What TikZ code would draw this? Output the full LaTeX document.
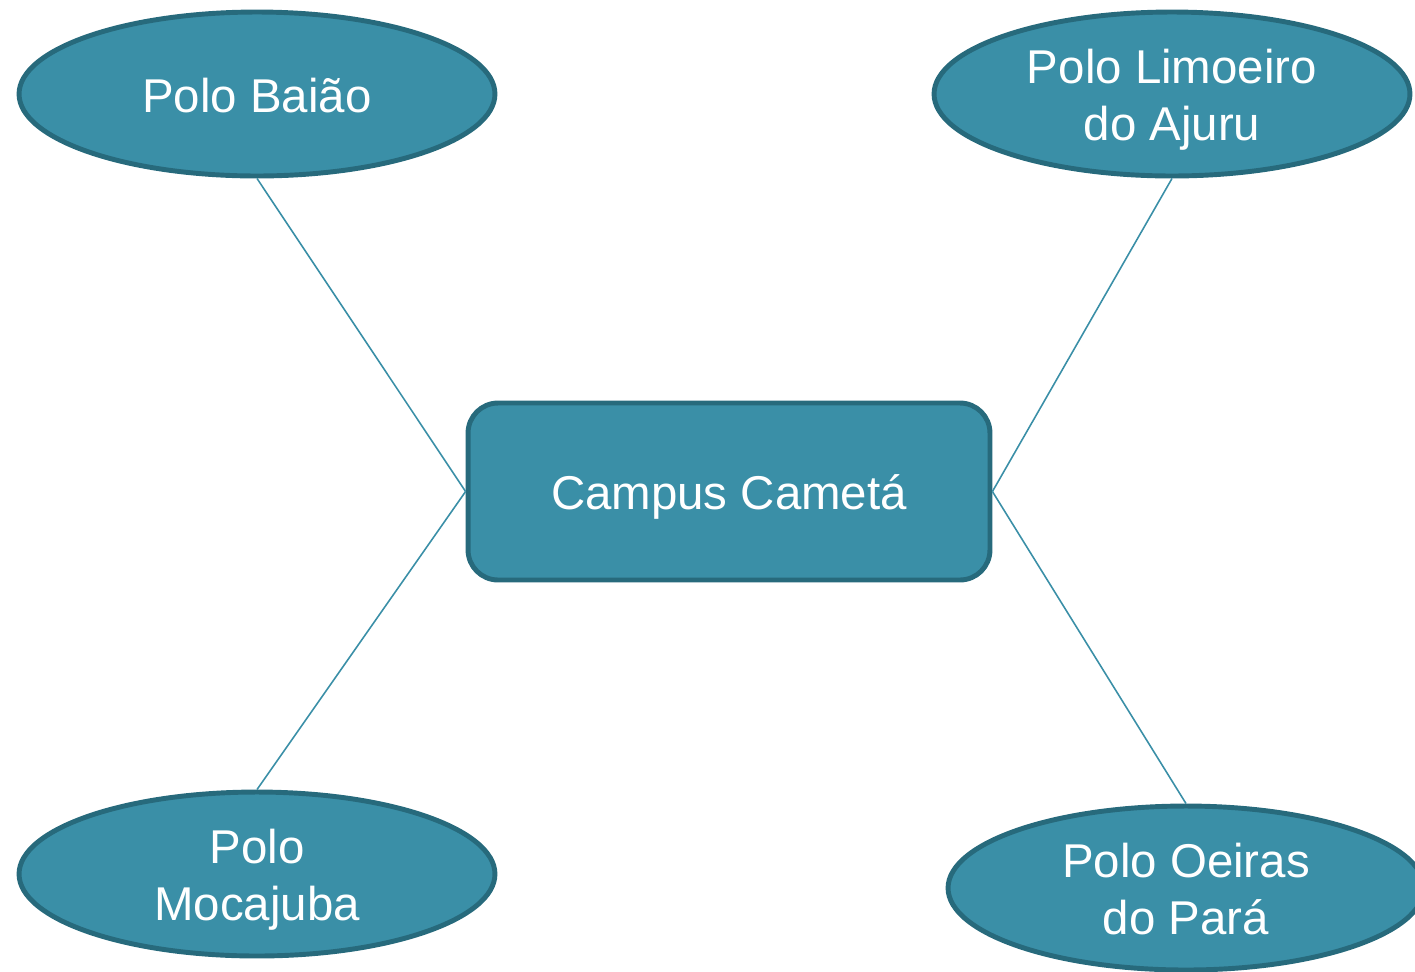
\documentclass[tikz,border=0pt]{standalone}
\usepackage{fontspec}
\setmainfont{Liberation Sans}
\usetikzlibrary{shapes.geometric}
\definecolor{tealfill}{HTML}{3A8FA7}
\definecolor{tealborder}{HTML}{276A7C}
\newcommand\lnstrut{\rule[-6pt]{0pt}{32.5pt}}
\begin{document}
\begin{tikzpicture}[x=0.02cm,y=-0.02cm,
  polo/.style={ellipse, draw=tealborder, fill=tealfill, line width=2.8pt,
    minimum width=9.52cm, minimum height=3.28cm, inner sep=0pt,
    text=white, align=center, font=\fontsize{27}{32.5}\selectfont},
  hub/.style={rectangle, rounded corners=0.6cm, draw=tealborder, fill=tealfill, line width=2.8pt,
    minimum width=10.44cm, minimum height=3.54cm, inner sep=0pt,
    text=white, align=center, font=\fontsize{27}{32.5}\selectfont},
  link/.style={draw=tealfill, line width=0.9pt}]
\useasboundingbox (0,0) rectangle (1415,971);
\node[hub] (campus) at (729,491.5) {\lnstrut Campus Cametá};
\node[polo] (baiao) at (257,94) {\lnstrut Polo Baião};
\node[polo] (limoeiro) at (1172,94) {\lnstrut Polo Limoeiro\\\lnstrut do Ajuru};
\node[polo] (mocajuba) at (257,874) {\lnstrut Polo\\\lnstrut Mocajuba};
\node[polo] (oeiras) at (1186,888) {\lnstrut Polo Oeiras\\\lnstrut do Pará};
\draw[link] (baiao.south) -- (campus.west);
\draw[link] (mocajuba.north) -- (campus.west);
\draw[link] (limoeiro.south) -- (campus.east);
\draw[link] (oeiras.north) -- (campus.east);
\end{tikzpicture}
\end{document}
